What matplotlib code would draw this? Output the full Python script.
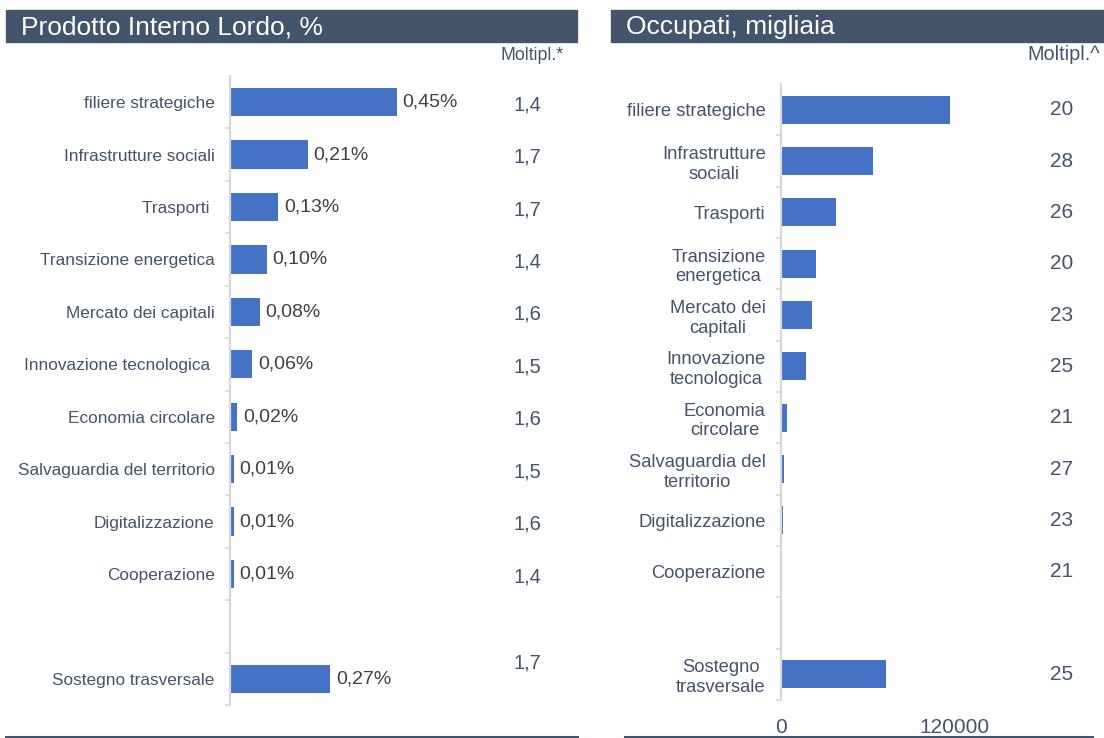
import matplotlib
matplotlib.use("Agg")
import matplotlib.pyplot as plt
from matplotlib.patches import Rectangle
from matplotlib.lines import Line2D
import matplotlib.transforms as mtransforms

plt.rcParams['font.family'] = ['Liberation Sans', 'DejaVu Sans']

# ---------------- data ----------------
cats_left = ["filiere strategiche", "Infrastrutture sociali", "Trasporti ",
             "Transizione energetica", "Mercato dei capitali", "Innovazione tecnologica ",
             "Economia circolare", "Salvaguardia del territorio", "Digitalizzazione",
             "Cooperazione", "", "Sostegno trasversale"]
gdp_pct = [0.45, 0.21, 0.13, 0.10, 0.08, 0.06, 0.02, 0.01, 0.01, 0.01, None, 0.27]
mult_gdp = ["1,4", "1,7", "1,7", "1,4", "1,6", "1,5", "1,6", "1,5", "1,6", "1,4", None, "1,7"]

cats_right = ["filiere strategiche", "Infrastrutture\nsociali", "Trasporti",
              "Transizione\nenergetica", "Mercato dei\ncapitali", "Innovazione\ntecnologica",
              "Economia\ncircolare", "Salvaguardia del\nterritorio", "Digitalizzazione",
              "Cooperazione", "", "Sostegno\ntrasversale"]
employed = [117000, 63500, 38000, 24000, 21500, 17500, 4000, 2300, 1300, 0, None, 72500]
mult_emp = ["20", "28", "26", "20", "23", "25", "21", "27", "23", "21", None, "25"]
emp_ticks = [0, 120000]

# ---------------- style ----------------
BAR = "#4472C4"
HEAD = "#44546A"
TXT = "#44546A"
VAL = "#404040"
AXC = "#D9D9D9"

W, H = 1104, 738
fig = plt.figure(figsize=(W / 100, H / 100), dpi=100)


def fx(px):
    return px / W


def fy(py):
    return 1 - py / H


# headers
for (x0, x1, title, tx) in [(6, 577, "Prodotto Interno Lordo, %", 21),
                            (611, 1104, "Occupati, migliaia", 626)]:
    fig.patches.append(Rectangle((fx(x0), fy(42)), fx(x1 - x0), 32 / H,
                                 transform=fig.transFigure, color=HEAD, zorder=0))
    fig.text(fx(tx), fy(27), title, color="white", fontsize=19, va="center", ha="left")

# bottom rules
fig.add_artist(Line2D([fx(6), fx(577)], [fy(736.5), fy(736.5)], color=HEAD, lw=2.2,
                      transform=fig.transFigure))
fig.add_artist(Line2D([fx(625), fx(1092)], [fy(736.5), fy(736.5)], color=HEAD, lw=2.2,
                      transform=fig.transFigure))


def setup_axis(ax, cats, fsize):
    n = len(cats)
    ax.set_ylim(n - 0.5, -0.5)
    for s in ["top", "right", "bottom"]:
        ax.spines[s].set_visible(False)
    ax.spines["left"].set_color(AXC)
    ax.spines["left"].set_linewidth(1.6)
    ax.set_yticks(range(n))
    ax.set_yticklabels(cats, fontsize=fsize, color=TXT, multialignment="center")
    ax.tick_params(axis="y", which="major", length=0, pad=11)
    ax.set_yticks([i + 0.5 for i in range(n)], minor=True)
    ax.tick_params(axis="y", which="minor", length=3.5, width=1.2, color=AXC, direction="out")


# ---------------- left panel ----------------
axL = fig.add_axes([fx(230), fy(705), fx(190), 629 / H])
yl = [i for i, v in enumerate(gdp_pct) if v is not None]
vl = [v for v in gdp_pct if v is not None]
axL.barh(yl, vl, height=0.54, color=BAR, zorder=2)
axL.set_xlim(0, 0.512)
setup_axis(axL, cats_left, 12.4)
axL.set_xticks([])
for y, v in zip(yl, vl):
    axL.annotate(f"{v:.2f}%".replace(".", ","), (v, y), xytext=(4, 0),
                 textcoords="offset points", va="center", ha="left",
                 fontsize=14, color=VAL)

trL = mtransforms.blended_transform_factory(fig.transFigure, axL.transData)
fig.text(fx(564), fy(55), "Moltipl.*", ha="right", va="center", fontsize=12.8, color=TXT)
for i, m in enumerate(mult_gdp):
    if m is None:
        continue
    off = 0.05 if i < 10 else -0.3
    axL.text(fx(527), i + off, m, transform=trL, ha="center", va="center",
             fontsize=14.5, color=TXT)

# ---------------- right panel ----------------
axR = fig.add_axes([fx(781), fy(700), fx(217), 616 / H])
yr = [i for i, v in enumerate(employed) if v is not None]
vr = [v for v in employed if v is not None]
axR.barh(yr, vr, height=0.54, color=BAR, zorder=2)
axR.set_xlim(0, 150000)
setup_axis(axR, cats_right, 13.2)
axR.set_xticks(emp_ticks)
axR.set_xticklabels([str(t) for t in emp_ticks], fontsize=15, color=TXT)
axR.tick_params(axis="x", length=0, pad=13)

trR = mtransforms.blended_transform_factory(fig.transFigure, axR.transData)
fig.text(fx(1100), fy(55), "Moltipl.^", ha="right", va="center", fontsize=14.3, color=TXT)
for i, m in enumerate(mult_emp):
    if m is None:
        continue
    axR.text(fx(1062), i, m, transform=trR, ha="center", va="center",
             fontsize=15, color=TXT)

fig.savefig("out.png", dpi=100)
